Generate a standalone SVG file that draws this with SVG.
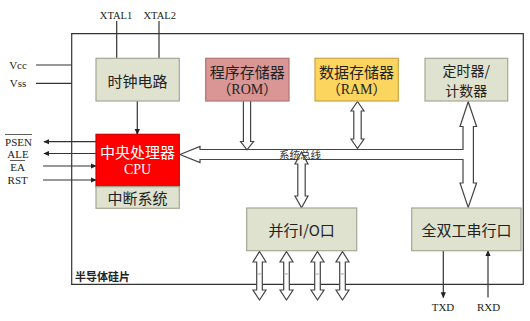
<svg xmlns="http://www.w3.org/2000/svg" width="530" height="321" viewBox="0 0 530 321">
<defs>
<marker id="ah" viewBox="0 0 8 8" refX="7" refY="4" markerWidth="6" markerHeight="6" markerUnits="userSpaceOnUse" orient="auto">
<path d="M0,0.5 L8,4 L0,7.5 Z" fill="#222"/>
</marker>
<style>
.ln{stroke:#333;stroke-width:1.2;fill:none}
.wire{stroke:#333;stroke-width:1.2;fill:none;marker-end:url(#ah)}
.hollow{fill:#fff;stroke:#444;stroke-width:1.2;stroke-linejoin:miter}
.box{fill:#dee2cf;stroke:#a3a893;stroke-width:1.2}
.zh{font-family:"Noto Sans CJK SC","Noto Sans",sans-serif;font-size:15px;fill:#222;text-anchor:middle;dominant-baseline:central}
.en{font-family:"Liberation Serif","Noto Sans CJK SC",serif;fill:#222;text-anchor:middle;dominant-baseline:central}
.small{font-size:11px}
</style>
</defs>
<rect width="530" height="321" fill="#fff"/>

<g id="chip">
<path class="ln" d="M71.7,33.7 H523.3 V284.3 H71.7 Z" stroke-width="1.6"/>
<text x="75" y="276" font-family="Noto Sans CJK SC,sans-serif" font-size="11" font-weight="bold" fill="#222" dominant-baseline="central">半导体硅片</text>
</g>

<g id="connectors">
<line class="ln" x1="116.7" y1="21" x2="116.7" y2="58.3"/>
<line class="ln" x1="159" y1="21" x2="159" y2="58.3"/>
<line class="ln" x1="36" y1="65" x2="71.7" y2="65"/>
<line class="ln" x1="36" y1="83.3" x2="71.7" y2="83.3"/>
<line class="wire" x1="137.3" y1="101" x2="137.3" y2="134.3"/>
<line class="wire" x1="96" y1="141.7" x2="44" y2="141.7"/>
<line class="wire" x1="96" y1="153.5" x2="44" y2="153.5"/>
<line class="wire" x1="43" y1="166" x2="96" y2="166"/>
<line class="wire" x1="43" y1="180" x2="96" y2="180"/>
<line class="wire" x1="443.3" y1="250.7" x2="443.3" y2="297.5"/>
<line class="wire" x1="488" y1="297.5" x2="488" y2="250.7"/>
<path class="hollow" d="M180,154.5 L200,146.5 L200,149.5 L463,149.5 L463,126.5 L460,126.5 L468.2,101.7 L476.6,126.5 L473.4,126.5 L473.4,183 L476.6,183 L468.2,207.5 L460,183 L463,183 L463,159.5 L200,159.5 L200,162.5 Z"/>
<path class="hollow" d="M243.4,101 L243.4,141.5 L240.6,141.5 L247,149.8 L253.6,141.5 L250.6,141.5 L250.6,101"/>
<path class="hollow" d="M357.5,101.5 L364,111 L361.2,111 L361.2,139 L364,139 L357.5,148.5 L351,139 L353.8,139 L353.8,111 L351,111 Z"/>
<path class="hollow" d="M301.5,152 L308,164 L305.2,164 L305.2,196 L308,196 L301.5,207.7 L295,196 L297.8,196 L297.8,164 L295,164 Z"/>
<text x="279" y="154.5" font-family="Noto Sans CJK SC,sans-serif" font-size="10.5" fill="#333" dominant-baseline="central">系统总线</text>
<g id="io-ports">
<path class="hollow" d="M259.5,251.5 L266,262 L262.3,262 L262.3,290 L266,290 L259.5,300 L253,290 L256.7,290 L256.7,262 L253,262 Z"/>
<path class="hollow" d="M286.5,251.5 L293,262 L289.3,262 L289.3,290 L293,290 L286.5,300 L280,290 L283.7,290 L283.7,262 L280,262 Z"/>
<path class="hollow" d="M317.5,251.5 L324,262 L320.3,262 L320.3,290 L324,290 L317.5,300 L311,290 L314.7,290 L314.7,262 L311,262 Z"/>
<path class="hollow" d="M342.5,251.5 L349,262 L345.3,262 L345.3,290 L349,290 L342.5,300 L336,290 L339.7,290 L339.7,262 L336,262 Z"/>
<g font-family="Liberation Serif,serif" font-size="5" fill="#999" text-anchor="middle">
<text transform="translate(261.3,274) rotate(-90)">8</text>
<text transform="translate(288.3,274) rotate(-90)">8</text>
<text transform="translate(319.3,274) rotate(-90)">8</text>
<text transform="translate(344.3,274) rotate(-90)">8</text>
</g>
</g>
</g>

<g id="labels">
<text class="en" x="116" y="15.7" font-size="10.5">XTAL1</text>
<text class="en" x="159.7" y="15.7" font-size="10.5">XTAL2</text>
<text class="en small" x="18" y="65">Vcc</text>
<text class="en small" x="18" y="83.3">Vss</text>
<text class="en small" x="18.5" y="142">PSEN</text>
<line x1="5" y1="134.5" x2="32" y2="134.5" stroke="#333" stroke-width="0.8"/>
<text class="en small" x="18" y="154">ALE</text>
<text class="en small" x="17.5" y="166.5">EA</text>
<line x1="10" y1="160.5" x2="25" y2="160.5" stroke="#333" stroke-width="0.8"/>
<text class="en small" x="17.7" y="180">RST</text>
<text class="en small" x="443" y="306.7">TXD</text>
<text class="en small" x="488.5" y="306.7">RXD</text>
</g>

<g id="clock">
<rect class="box" x="96" y="58.3" width="83.3" height="42.7"/>
<text class="zh" x="137.6" y="80">时钟电路</text>
</g>

<g id="rom">
<rect x="205.7" y="58.3" width="83.3" height="42.7" fill="#d99694" stroke="#b07472" stroke-width="1.2"/>
<text class="zh" x="247.3" y="71">程序存储器</text>
<text class="en" x="247.3" y="89.3" font-size="14">（ROM）</text>
</g>

<g id="ram">
<rect x="315" y="58.3" width="83.3" height="42.7" fill="#fcd55e" stroke="#c9a545" stroke-width="1.2"/>
<text class="zh" x="356.6" y="71">数据存储器</text>
<text class="en" x="356.6" y="89.3" font-size="14">（RAM）</text>
</g>

<g id="timer">
<rect class="box" x="425" y="58.3" width="82.7" height="42.7"/>
<text class="zh" x="466.3" y="70.3" style="font-size:14px">定时器/</text>
<text class="zh" x="466.3" y="90" style="font-size:14px">计数器</text>
</g>

<g id="cpu">
<rect x="96" y="134.3" width="83.3" height="52.4" fill="#ff0000" stroke="#cc0000" stroke-width="1.2"/>
<text class="zh" x="137.6" y="151" style="fill:#fff">中央处理器</text>
<text class="en" x="137.6" y="169.3" font-size="14" style="fill:#fff">CPU</text>
</g>

<g id="interrupt">
<rect class="box" x="96" y="186.7" width="83.3" height="21.6"/>
<text class="zh" x="137.6" y="197.5">中断系统</text>
</g>

<g id="io">
<rect class="box" x="246.7" y="208" width="110" height="42.7"/>
<text class="zh" x="301.7" y="229.5">并行I/O口</text>
</g>

<g id="serial">
<rect class="box" x="411.7" y="208" width="109.3" height="42.7"/>
<text class="zh" x="466.4" y="229.5">全双工串行口</text>
</g>
</svg>
